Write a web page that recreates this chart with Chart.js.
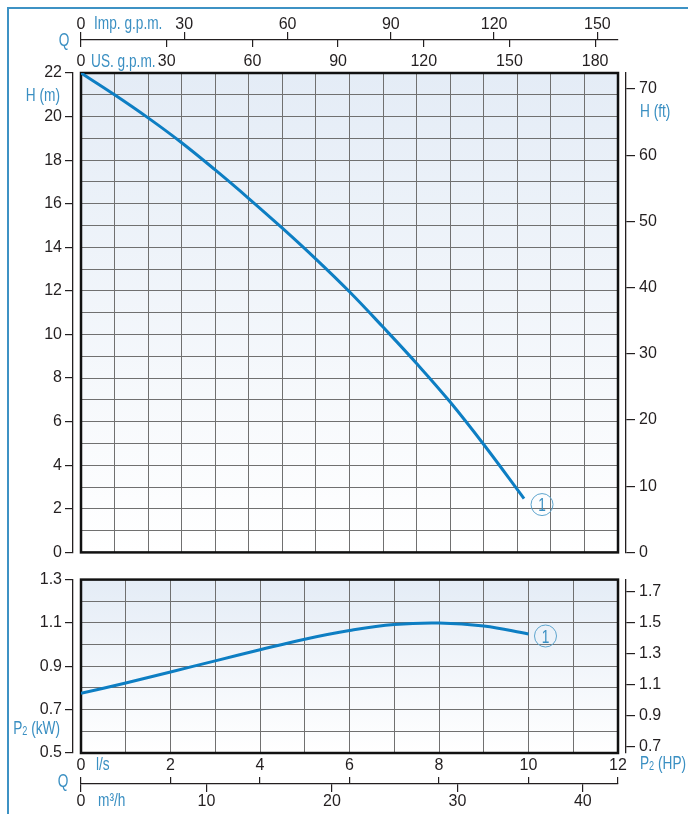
<!DOCTYPE html>
<html lang="en">
<head>
<meta charset="UTF-8">
<title>Pump performance curve</title>
<style>
  html, body { margin: 0; padding: 0; background: #fff; }
  #page { position: relative; width: 688px; height: 814px; overflow: hidden; }
  #frame { position: absolute; left: 7px; top: 7px; right: -2px; bottom: -2px;
           border-top: 2px solid #3d92c4; border-left: 2px solid #3d92c4; }
  canvas { position: absolute; left: 0; }
  #headChart { top: 0; }
  #powerChart { top: 566px; }
</style>
<script src="https://cdn.jsdelivr.net/npm/chart.js"></script>
</head>
<body>
<div id="page">
  <div id="frame"></div>
  <canvas id="headChart" width="688" height="566"></canvas>
  <canvas id="powerChart" width="688" height="248"></canvas>
</div>
<script>
// H-Q curve: flow in l/s, head in m
const qHead = [0, 0.75, 1.5, 2.25, 3, 3.75, 4.5, 5.25, 6, 6.75, 7.5, 8.25, 9, 9.9];
const head = [22, 21.0, 19.94, 18.8, 17.55, 16.24, 14.88, 13.46, 11.96, 10.34, 8.67, 6.9, 4.95, 2.47];

// P2-Q curve: flow in l/s, shaft power in kW
const qPower = [0, 1, 2, 3, 4, 5, 6, 7, 8, 9, 10];
const power = [0.775, 0.823, 0.874, 0.925, 0.976, 1.025, 1.065, 1.093, 1.1, 1.086, 1.049];

// tick labels
const hTicks = [0, 2, 4, 6, 8, 10, 12, 14, 16, 18, 20, 22];
const ftTicks = [0, 10, 20, 30, 40, 50, 60, 70];
const usTicks = [0, 30, 60, 90, 120, 150, 180];
const impTicks = [0, 30, 60, 90, 120, 150];
const lsTicks = [0, 2, 4, 6, 8, 10, 12];
const m3Ticks = [0, 10, 20, 30, 40];
const kwTicks = [0.5, 0.7, 0.9, 1.1, 1.3];
const hpTicks = [0.7, 0.9, 1.1, 1.3, 1.5, 1.7];

// ranges of the unit scales, as printed on the sheet
const Q_MAX = 12, H_MAX = 22, FT_MAX = 72.4;
const US_MAX = 188, IMP_MAX = 156, M3_MAX = 42.8;
const KW_MIN = 0.5, KW_MAX = 1.3, HP_MIN = 0.659, HP_MAX = 1.78;

const INK = '#231f20';
const GRID = '#707070';
const BLUE = '#3a8fc2';
const CURVE = '#0d7ec3';
const NUM = "'Liberation Sans', Arial, sans-serif";
const SQUEEZE = 0.76;   // unit labels are set in a condensed face
const numFont = { family: NUM, size: 16 };

function fixHeight(px) { return s => { s.height = px; }; }
function fixWidth(px) { return s => { s.width = px; }; }
function useTicks(arr) { return s => { s.ticks = arr.map(v => ({ value: v })); }; }

// grid-only axis (no labels, no ticks)
function gridAxis(pos, min, max, step, size) {
  return {
    type: 'linear', position: pos, weight: 0, min: min, max: max,
    ticks: { display: false, stepSize: step },
    grid: { color: GRID, lineWidth: 1, drawTicks: false },
    border: { display: false },
    afterFit: (pos === 'left' || pos === 'right') ? fixWidth(size) : fixHeight(size)
  };
}
// spacer axis that only takes room
function gapAxis(pos, min, max, size) {
  return {
    type: 'linear', position: pos, weight: 0, min: min, max: max,
    ticks: { display: false }, grid: { display: false }, border: { display: false },
    afterFit: (pos === 'left' || pos === 'right') ? fixWidth(size) : fixHeight(size)
  };
}
// axis with labels and outward ticks
function unitAxis(pos, weight, min, max, ticks, tickLen, pad, size, opts) {
  opts = opts || {};
  return {
    type: 'linear', position: pos, weight: weight, min: min, max: max,
    afterBuildTicks: useTicks(ticks),
    ticks: { display: opts.labels !== false, font: numFont, color: INK, padding: pad,
             maxRotation: 0, autoSkip: false, callback: opts.fmt || (v => String(v)) },
    grid: tickLen > 0 ? { drawOnChartArea: false, drawTicks: true, tickLength: tickLen, color: INK, lineWidth: 1.2 }
                      : { display: false },
    border: { display: opts.border !== false, color: INK, width: 1.3 },
    afterFit: (pos === 'left' || pos === 'right') ? fixWidth(size) : fixHeight(size)
  };
}

const plotFrame = {
  id: 'plotFrame',
  beforeDraw(chart) {
    const { ctx, chartArea: a } = chart;
    const g = ctx.createLinearGradient(0, a.top, 0, a.bottom);
    g.addColorStop(0, '#e4ecf6');
    g.addColorStop(1, '#ffffff');
    ctx.save();
    ctx.fillStyle = g;
    ctx.fillRect(a.left, a.top, a.right - a.left, a.bottom - a.top);
    ctx.restore();
  },
  beforeDatasetsDraw(chart) {
    const { ctx, chartArea: a } = chart;
    ctx.save();
    ctx.strokeStyle = '#111';
    ctx.lineWidth = 2.5;
    ctx.strokeRect(a.left, a.top, a.right - a.left, a.bottom - a.top);
    ctx.restore();
  }
};

// draws condensed text pieces [text, size, dy] side by side
function squeezed(ctx, parts, x, y, align) {
  let w = 0;
  parts.forEach(p => { ctx.font = p[1] + 'px ' + NUM; w += ctx.measureText(p[0]).width; });
  w *= SQUEEZE;
  const x0 = align === 'right' ? x - w : align === 'center' ? x - w / 2 : x;
  ctx.save();
  ctx.translate(x0, y);
  ctx.scale(SQUEEZE, 1);
  ctx.fillStyle = BLUE;
  ctx.textAlign = 'left';
  ctx.textBaseline = 'alphabetic';
  let cx = 0;
  parts.forEach(p => {
    ctx.font = p[1] + 'px ' + NUM;
    ctx.fillText(p[0], cx, p[2]);
    cx += ctx.measureText(p[0]).width;
  });
  ctx.restore();
}

// y is the vertical middle of the capitals
function blueText(ctx, text, x, y, align) {
  squeezed(ctx, [[text, 18, 6.5]], x, y, align);
}
function p2Text(ctx, unit, x, y, align) {
  squeezed(ctx, [['P', 18, 6.5], ['2', 12, 7.5], [' ' + unit, 18, 6.5]], x, y, align);
}

// circled curve number next to the end of a curve
function badge(chart, qs, vs, dx, dy) {
  const ctx = chart.ctx;
  const x = chart.scales.x.getPixelForValue(qs[qs.length - 1]) + dx;
  const y = chart.scales.y.getPixelForValue(vs[vs.length - 1]) + dy;
  ctx.beginPath();
  ctx.arc(x, y, 11, 0, Math.PI * 2);
  ctx.strokeStyle = '#5ea5ce';
  ctx.lineWidth = 1;
  ctx.stroke();
  squeezed(ctx, [['1', 18, 0]], x, y + 6.5, 'center');
}

const headLabels = {
  id: 'headLabels',
  afterDraw(chart) {
    const ctx = chart.ctx;
    blueText(ctx, 'Q', 64, 39, 'center');
    blueText(ctx, 'Imp. g.p.m.', 94, 22);
    blueText(ctx, 'US. g.p.m.', 91, 60);
    blueText(ctx, 'H (m)', 60, 94, 'right');
    blueText(ctx, 'H (ft)', 640, 110);
    badge(chart, qHead, head, 18, 6);
  }
};

const powerLabels = {
  id: 'powerLabels',
  afterDraw(chart) {
    const ctx = chart.ctx;
    p2Text(ctx, '(kW)', 60, 727 - 566, 'right');
    blueText(ctx, 'l/s', 96, 763 - 566);
    blueText(ctx, 'Q', 63, 780 - 566, 'center');
    blueText(ctx, 'm\u00b3/h', 98, 799 - 566);
    p2Text(ctx, '(HP)', 640, 762 - 566);
    badge(chart, qPower, power, 17, 2);
  }
};

const common = {
  responsive: false,
  animation: false,
  events: [],
  plugins: { legend: { display: false }, tooltip: { enabled: false } }
};

function curve(qs, vs) {
  return {
    data: qs.map((q, i) => ({ x: q, y: vs[i] })),
    borderColor: CURVE, borderWidth: 3, pointRadius: 0,
    tension: 0.4, fill: false,
    xAxisID: 'x', yAxisID: 'y'
  };
}

new Chart(document.getElementById('headChart'), {
  type: 'line',
  data: { datasets: [curve(qHead, head)] },
  options: Object.assign({}, common, {
    layout: { padding: 0 },
    scales: {
      x: gridAxis('bottom', 0, Q_MAX, 0.75, 12),
      y: gridAxis('left', 0, H_MAX, 1, 8),
      yM: unitAxis('left', 1, 0, H_MAX, hTicks, 8, 3, 73),
      yR: gapAxis('right', 0, H_MAX, 8),
      yFt: unitAxis('right', 1, 0, FT_MAX, ftTicks, 9, 4, 62),
      xUS: unitAxis('top', 0, 0, US_MAX, usTicks, 0, -6, 26, { border: false }),
      xUSt: unitAxis('top', 1, 0, US_MAX, usTicks, 7, 0, 7, { labels: false, border: false }),
      xImp: unitAxis('top', 2, 0, IMP_MAX, impTicks, 8, -2, 40)
    }
  }),
  plugins: [plotFrame, headLabels]
});

new Chart(document.getElementById('powerChart'), {
  type: 'line',
  data: { datasets: [curve(qPower, power)] },
  options: Object.assign({}, common, {
    layout: { padding: { top: 11 } },
    scales: {
      x: {
        type: 'linear', position: 'bottom', weight: 0, min: 0, max: Q_MAX,
        ticks: { stepSize: 1, font: numFont, color: INK, padding: 3, maxRotation: 0, autoSkip: false,
                 callback: v => lsTicks.includes(v) ? String(v) : '' },
        grid: { color: GRID, lineWidth: 1, drawTicks: false },
        border: { display: false },
        afterFit: fixHeight(24)
      },
      xQt: unitAxis('bottom', 1, 0, Q_MAX, lsTicks, 7, 0, 7, { labels: false, border: false }),
      xM3: unitAxis('bottom', 2, 0, M3_MAX, m3Ticks, 8, 0, 30),
      y: gridAxis('left', KW_MIN, KW_MAX, 0.1, 8),
      yKw: unitAxis('left', 1, KW_MIN, KW_MAX, kwTicks, 8, 3, 73, { fmt: v => v.toFixed(1) }),
      yR: gapAxis('right', KW_MIN, KW_MAX, 8),
      yHp: unitAxis('right', 1, HP_MIN, HP_MAX, hpTicks, 9, 4, 62, { fmt: v => v.toFixed(1) })
    }
  }),
  plugins: [plotFrame, powerLabels]
});
</script>
</body>
</html>
